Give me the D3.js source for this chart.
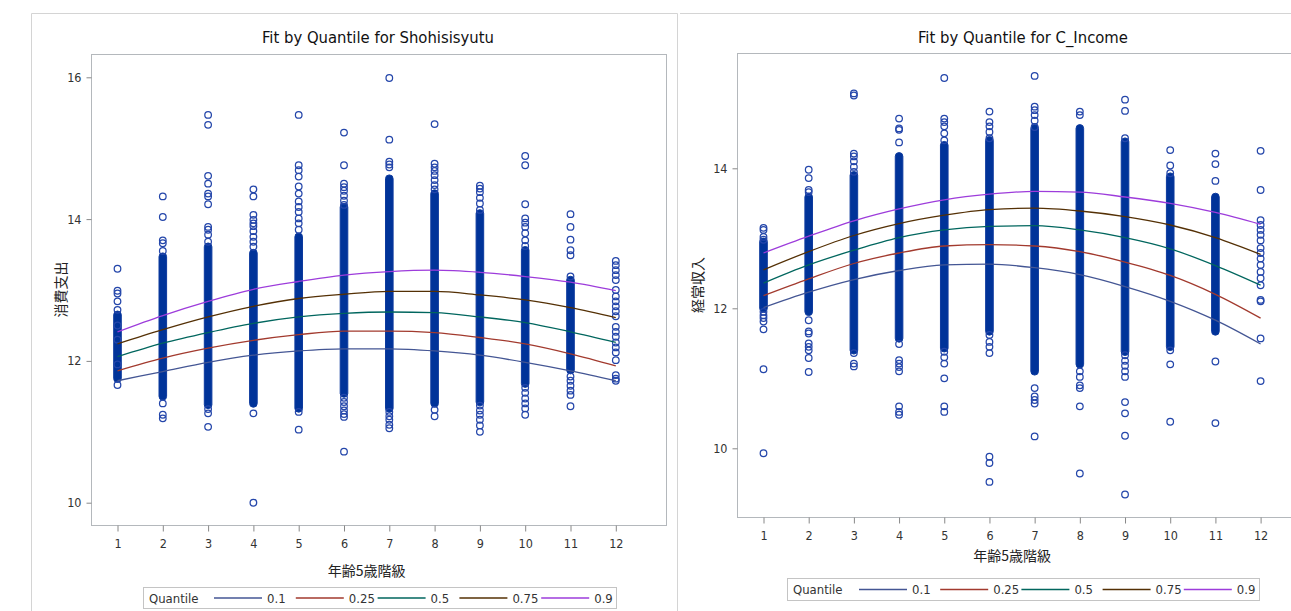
<!DOCTYPE html>
<html>
<head>
<meta charset="utf-8">
<script src="https://cdn.jsdelivr.net/npm/d3@7"></script>
<style>
  html, body { margin: 0; padding: 0; background: #fff; }
  svg { display: block; }
  .tick-label { font-family: "Liberation Sans Narrow", "DejaVu Sans Condensed", "Arial Narrow", sans-serif; font-stretch: condensed; fill: #333; }
  .title { font-family: "Liberation Sans Narrow", "DejaVu Sans Condensed", sans-serif; font-stretch: condensed; fill: #111; }
  .cjk { font-family: "Noto Sans CJK JP", sans-serif; fill: #222; }
</style>
</head>
<body>
<svg id="chart" width="1291" height="611"></svg>
<script>
// ---- shared categories and quantile levels ----
const ageClasses = [1, 2, 3, 4, 5, 6, 7, 8, 9, 10, 11, 12];
const quantileLabels = ["0.1", "0.25", "0.5", "0.75", "0.9"];
const quantileColors = ["#445694", "#A23A2E", "#01665E", "#543005", "#9D3CDB"];

// ---- Shohisisyutu (消費支出) ----
const shohiTicks = [10, 12, 14, 16];
const shohiQ10 = [11.72, 11.85, 11.98, 12.08, 12.14, 12.17, 12.17, 12.14, 12.08, 11.98, 11.86, 11.72];
const shohiQ25 = [11.86, 12.04, 12.18, 12.29, 12.37, 12.42, 12.42, 12.40, 12.33, 12.24, 12.10, 11.93];
const shohiQ50 = [12.06, 12.25, 12.40, 12.53, 12.62, 12.67, 12.69, 12.68, 12.62, 12.54, 12.41, 12.26];
const shohiQ75 = [12.24, 12.44, 12.62, 12.77, 12.88, 12.94, 12.98, 12.98, 12.93, 12.86, 12.75, 12.61];
const shohiQ90 = [12.41, 12.64, 12.84, 13.01, 13.12, 13.21, 13.26, 13.28, 13.25, 13.19, 13.11, 12.99];
// dense runs of overlapping observations per age class (low, high); null where points are sparse
const shohiDenseLow  = [11.75, 11.50, 11.38, 11.40, 11.33, 11.54, 11.33, 11.40, 11.42, 11.68, 11.87, null];
const shohiDenseHigh = [12.65, 13.47, 13.61, 13.52, 13.75, 14.17, 14.57, 14.36, 14.08, 13.56, 13.14, null];
const shohiPoints = [
  [13.30, 12.99, 12.95, 12.84, 12.72, 12.50, 12.30, 11.95, 11.66],
  [14.32, 14.03, 13.70, 13.66, 13.55, 11.40, 11.24, 11.19],
  [15.47, 15.33, 14.61, 14.50, 14.36, 14.32, 14.21, 13.89, 13.85, 13.78, 13.68, 11.32, 11.26, 11.07],
  [14.42, 14.32, 14.06, 13.99, 13.94, 13.90, 13.83, 13.75, 13.68, 13.61, 11.26, 10.00],
  [15.47, 14.76, 14.69, 14.60, 14.46, 14.36, 14.25, 14.17, 14.10, 14.01, 13.94, 13.85, 11.28, 11.03],
  [15.22, 14.76, 14.50, 14.45, 14.40, 14.33, 14.26, 14.20, 11.48, 11.42, 11.36, 11.30, 11.25, 11.21, 10.72],
  [15.99, 15.12, 14.81, 14.77, 14.73, 11.28, 11.22, 11.17, 11.10, 11.05],
  [15.34, 14.78, 14.73, 14.68, 14.62, 14.55, 14.48, 14.42, 11.31, 11.22],
  [14.47, 14.43, 14.38, 14.30, 14.22, 14.13, 11.37, 11.30, 11.24, 11.17, 11.09, 11.00],
  [14.89, 14.76, 14.21, 14.01, 13.95, 13.89, 13.80, 13.70, 13.62, 11.62, 11.55, 11.47, 11.40, 11.33, 11.24],
  [14.07, 13.89, 13.71, 13.56, 13.49, 13.19, 11.78, 11.72, 11.65, 11.58, 11.52, 11.36],
  [13.41, 13.35, 13.28, 13.21, 13.14, 13.00, 12.91, 12.84, 12.77, 12.70, 12.63, 12.48, 12.41, 12.34, 12.26, 12.19, 12.12, 12.01, 11.80, 11.75, 11.72]
];

// ---- C_Income (経常収入) ----
const incomeTicks = [10, 12, 14];
const incomeQ10 = [12.01, 12.23, 12.41, 12.54, 12.62, 12.63, 12.58, 12.48, 12.31, 12.10, 11.83, 11.49];
const incomeQ25 = [12.18, 12.42, 12.64, 12.79, 12.89, 12.91, 12.89, 12.81, 12.66, 12.47, 12.20, 11.86];
const incomeQ50 = [12.36, 12.62, 12.83, 13.01, 13.12, 13.17, 13.18, 13.12, 13.01, 12.85, 12.61, 12.33];
const incomeQ75 = [12.55, 12.81, 13.04, 13.21, 13.33, 13.41, 13.43, 13.39, 13.31, 13.19, 13.01, 12.77];
const incomeQ90 = [12.79, 13.03, 13.25, 13.42, 13.55, 13.63, 13.67, 13.66, 13.59, 13.50, 13.37, 13.20];
const incomeDenseLow  = [12.00, 11.95, 11.40, 11.57, 11.43, 11.67, 11.10, 11.20, 11.38, 11.45, 11.67, null];
const incomeDenseHigh = [12.95, 13.59, 13.90, 14.17, 14.33, 14.40, 14.57, 14.57, 14.38, 13.88, 13.59, null];
const incomePoints = [
  [13.15, 13.12, 13.02, 12.98, 11.95, 11.90, 11.86, 11.81, 11.70, 11.13, 9.93],
  [13.98, 13.86, 13.69, 13.66, 11.83, 11.67, 11.64, 11.50, 11.45, 11.40, 11.29, 11.09],
  [15.07, 15.04, 14.21, 14.17, 14.10, 14.02, 13.95, 11.36, 11.21, 11.17],
  [14.71, 14.57, 14.55, 14.37, 11.49, 11.26, 11.21, 11.16, 11.10, 10.60, 10.52, 10.48],
  [15.29, 14.71, 14.66, 14.60, 14.50, 14.40, 11.38, 11.30, 11.21, 11.00, 10.60, 10.52],
  [14.81, 14.66, 14.60, 14.52, 14.43, 11.62, 11.52, 11.45, 11.36, 9.88, 9.79, 9.52],
  [15.32, 14.88, 14.83, 14.76, 14.68, 14.59, 10.86, 10.74, 10.69, 10.64, 10.17],
  [14.81, 14.76, 11.10, 11.02, 10.90, 10.86, 10.60, 9.64],
  [14.98, 14.82, 14.43, 11.33, 11.25, 11.18, 11.10, 11.02, 10.66, 10.50, 10.18, 9.34],
  [14.26, 14.04, 13.93, 11.40, 11.20, 10.38],
  [14.21, 14.06, 13.82, 11.24, 10.36],
  [14.25, 13.69, 13.26, 13.19, 13.12, 13.05, 12.97, 12.86, 12.79, 12.71, 12.62, 12.52, 12.43, 12.33, 12.12, 12.10, 11.57, 10.96]
];

const svg = d3.select("#chart");

// outer panel borders
svg.append("path")
  .attr("d", "M31.5,611 V13.5 H677.5 V611 M680,13.5 H1291")
  .attr("fill", "none").attr("stroke", "#d4d4d4").attr("stroke-width", 1);

function drawPanel(cfg) {
  const g = svg.append("g");
  const x = d3.scaleLinear().domain([1, 12]).range(cfg.xRange);
  const y = d3.scaleLinear().domain(cfg.yDomain).range(cfg.yRange);
  const f = cfg.frame;

  // title
  g.append("text").attr("class", "title")
    .attr("x", cfg.titleX).attr("y", cfg.titleY)
    .attr("text-anchor", "middle").attr("font-size", 16.5)
    .text(cfg.title);

  // plot frame
  g.append("rect")
    .attr("x", f.x0 + 0.5).attr("y", f.y0 + 0.5)
    .attr("width", f.x1 - f.x0).attr("height", f.y1 - f.y0)
    .attr("fill", "none").attr("stroke", "#b4b8bc").attr("stroke-width", 1);

  // y axis
  const yAxis = d3.axisLeft(y).tickValues(cfg.yTicks).tickSize(5).tickPadding(5).tickFormat(d3.format("d"));
  const ya = g.append("g").attr("transform", `translate(${f.x0 + 0.5},0)`).call(yAxis);
  ya.select(".domain").remove();
  ya.selectAll(".tick line").attr("stroke", "#888");
  ya.selectAll(".tick text").attr("class", "tick-label").attr("font-size", 12.5).attr("fill", "#333");

  // x axis
  const xAxis = d3.axisBottom(x).tickValues(ageClasses).tickSize(6).tickPadding(8).tickFormat(d3.format("d"));
  const xa = g.append("g").attr("transform", `translate(0,${f.y1 + 0.5})`).call(xAxis);
  xa.select(".domain").remove();
  xa.selectAll(".tick line").attr("stroke", "#888");
  xa.selectAll(".tick text").attr("class", "tick-label").attr("font-size", 12.5).attr("fill", "#333");

  // axis titles
  g.append("text").attr("class", "cjk")
    .attr("transform", `translate(${cfg.yTitleX},${(f.y0 + f.y1) / 2}) rotate(-90)`)
    .attr("text-anchor", "middle").attr("dominant-baseline", "central")
    .attr("font-size", 14).text(cfg.yTitle);
  g.append("text").attr("class", "cjk")
    .attr("x", (cfg.xRange[0] + cfg.xRange[1]) / 2).attr("y", cfg.xTitleY)
    .attr("text-anchor", "middle").attr("dominant-baseline", "central")
    .attr("font-size", 14).text("年齢5歳階級");

  const plot = g.append("g");

  // dense runs of observations
  const bands = ageClasses.map((c, i) => ({ c, lo: cfg.denseLow[i], hi: cfg.denseHigh[i] }))
    .filter(d => d.lo != null);
  plot.selectAll("rect.band").data(bands).join("rect")
    .attr("class", "band")
    .attr("x", d => x(d.c) - 3.8).attr("width", 7.6)
    .attr("y", d => y(d.hi) - 3.8).attr("height", d => y(d.lo) - y(d.hi) + 7.6)
    .attr("rx", 3.8)
    .attr("fill", "#003399").attr("stroke", "#0d3a9e").attr("stroke-width", 1);

  // individual observations (open circles)
  const pts = [];
  cfg.points.forEach((vals, i) => vals.forEach(v => pts.push({ c: ageClasses[i], v })));
  plot.selectAll("circle.obs").data(pts).join("circle")
    .attr("class", "obs")
    .attr("cx", d => x(d.c)).attr("cy", d => y(d.v)).attr("r", 3.3)
    .attr("fill", "none").attr("stroke", "#2446aa").attr("stroke-width", 1.25);

  // quantile fit curves
  const line = d3.line().x((d, i) => x(ageClasses[i])).y(d => y(d)).curve(d3.curveMonotoneX);
  cfg.quantileSeries.forEach((series, k) => {
    plot.append("path").datum(series)
      .attr("d", line).attr("fill", "none")
      .attr("stroke", quantileColors[k]).attr("stroke-width", 1.3);
  });

  // legend
  const L = cfg.legend;
  const lg = g.append("g");
  lg.append("rect").attr("x", L.x0 + 0.5).attr("y", L.y0 + 0.5)
    .attr("width", L.x1 - L.x0).attr("height", L.y1 - L.y0)
    .attr("fill", "#fff").attr("stroke", "#c4c4c4");
  const cy = (L.y0 + L.y1) / 2 + 0.5;
  lg.append("text").attr("class", "tick-label")
    .attr("x", L.x0 + 6).attr("y", cy).attr("dominant-baseline", "central")
    .attr("font-size", 13).attr("fill", "#222").text("Quantile");
  quantileLabels.forEach((lab, k) => {
    const lx = L.firstLine + k * L.step;
    lg.append("line").attr("x1", lx).attr("x2", lx + 48).attr("y1", cy).attr("y2", cy)
      .attr("stroke", quantileColors[k]).attr("stroke-width", 1.3);
    lg.append("text").attr("class", "tick-label")
      .attr("x", lx + 53).attr("y", cy).attr("dominant-baseline", "central")
      .attr("font-size", 13).attr("fill", "#222").text(lab);
  });
}

drawPanel({
  title: "Fit by Quantile for Shohisisyutu", titleX: 378, titleY: 43,
  frame: { x0: 91, y0: 54, x1: 666, y1: 525 },
  xRange: [117.5, 615.8], yDomain: [10, 16], yRange: [502.7, 77.3],
  yTicks: shohiTicks, yTitle: "消費支出", yTitleX: 60, xTitleY: 570,
  denseLow: shohiDenseLow, denseHigh: shohiDenseHigh, points: shohiPoints,
  quantileSeries: [shohiQ10, shohiQ25, shohiQ50, shohiQ75, shohiQ90],
  legend: { x0: 143, y0: 587, x1: 616, y1: 608, firstLine: 214, step: 81.8 }
});

drawPanel({
  title: "Fit by Quantile for C_Income", titleX: 1023, titleY: 43,
  frame: { x0: 737, y0: 53, x1: 1300, y1: 517 },
  xRange: [763.5, 1260.6], yDomain: [10, 14], yRange: [448.3, 168.3],
  yTicks: incomeTicks, yTitle: "経常収入", yTitleX: 697, xTitleY: 555,
  denseLow: incomeDenseLow, denseHigh: incomeDenseHigh, points: incomePoints,
  quantileSeries: [incomeQ10, incomeQ25, incomeQ50, incomeQ75, incomeQ90],
  legend: { x0: 787, y0: 578, x1: 1259, y1: 600, firstLine: 859, step: 81.2 }
});
</script>
</body>
</html>
